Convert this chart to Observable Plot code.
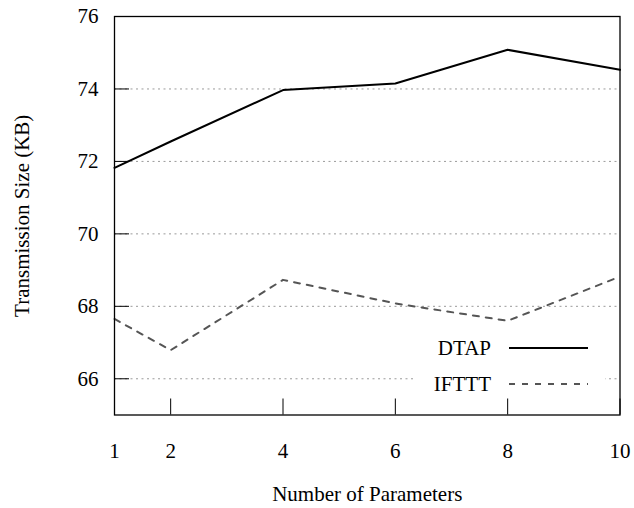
<!DOCTYPE html>
<html>
<head>
<meta charset="utf-8">
<script src="https://cdn.jsdelivr.net/npm/d3@7"></script>
<script src="https://cdn.jsdelivr.net/npm/@observablehq/plot@0.6"></script>
<style>
  html, body { margin: 0; padding: 0; background: #fff; }
  #chart svg { display: block; }
</style>
</head>
<body>
<div id="chart"></div>
<script>
const params = [1, 2, 4, 6, 8, 10];
const dtap = [71.82, 72.55, 73.97, 74.15, 75.08, 74.53];
const ifttt = [67.65, 66.79, 68.73, 68.08, 67.60, 68.82];
const xTicks = [1, 2, 4, 6, 8, 10];
const yTicks = [66, 68, 70, 72, 74, 76];
const gridValues = [66, 68, 70, 72, 74];
const seriesNames = ["DTAP", "IFTTT"];
const xTitle = "Number of Parameters";
const yTitle = "Transmission Size (KB)";

const rows = [];
params.forEach((p, i) => {
  rows.push({x: p, y: dtap[i], s: seriesNames[0]});
  rows.push({x: p, y: ifttt[i], s: seriesNames[1]});
});

const W = 634, H = 508;
const mL = 114, mR = 14.5, mT = 16, mB = 93.5;
const innerH = H - mT - mB, innerW = W - mL - mR;
const font = "'Liberation Serif', 'Times New Roman', serif";
const fs = 21;

const plot = Plot.plot({
  width: W,
  height: H,
  marginLeft: mL,
  marginRight: mR,
  marginTop: mT,
  marginBottom: mB,
  style: {fontFamily: font, fontSize: fs + "px", color: "#000", background: "#fff"},
  x: {domain: [1, 10], ticks: xTicks},
  y: {domain: [65, 76], ticks: yTicks},
  marks: [
    Plot.ruleY(gridValues, {stroke: "#9a9a9a", strokeWidth: 1, strokeDasharray: "2,3.5"}),
    Plot.tickX(xTicks, {x: d => d, stroke: "#000", strokeWidth: 1, insetTop: innerH - 16}),
    Plot.tickY(yTicks, {y: d => d, stroke: "#000", strokeWidth: 1, insetRight: innerW - 15}),
    Plot.line(rows.filter(d => d.s === seriesNames[0]), {x: "x", y: "y", stroke: "#000", strokeWidth: 2}),
    Plot.line(rows.filter(d => d.s === seriesNames[1]), {x: "x", y: "y", stroke: "#555", strokeWidth: 2, strokeDasharray: "6,7"}),
    Plot.axisX(xTicks, {tickSize: 0, tickPadding: 28, label: null, fontSize: fs}),
    Plot.axisY(yTicks, {tickSize: 0, tickPadding: 16, label: null, fontSize: fs}),
    Plot.text([xTitle], {text: d => d, frameAnchor: "bottom", dy: 79, fontSize: fs, lineAnchor: "middle", textAnchor: "middle"}),
    Plot.text([yTitle], {text: d => d, frameAnchor: "left", dx: -92, rotate: -90, fontSize: fs, lineAnchor: "middle", textAnchor: "middle"}),
    Plot.frame({stroke: "#000", strokeWidth: 1.3})
  ]
});

// Legend (boxed, inside the plot area, lower right)
const svg = d3.select(plot);
const lg = svg.append("g").attr("font-family", font).attr("font-size", fs);
lg.append("rect").attr("x", 413).attr("y", 331).attr("width", 192).attr("height", 64).attr("fill", "#fff");
const legendRows = [
  {name: seriesNames[0], cy: 348, stroke: "#000", dash: null},
  {name: seriesNames[1], cy: 384, stroke: "#555", dash: "6,7"}
];
legendRows.forEach(r => {
  lg.append("text").attr("x", 491).attr("y", r.cy).attr("text-anchor", "end")
    .attr("dominant-baseline", "central").attr("fill", "#000").text(r.name);
  const ln = lg.append("line").attr("x1", 509).attr("x2", 588).attr("y1", r.cy).attr("y2", r.cy)
    .attr("stroke", r.stroke).attr("stroke-width", 2);
  if (r.dash) ln.attr("stroke-dasharray", r.dash);
});
// keep frame on top
svg.node().appendChild(svg.select("[aria-label=frame]").node());

document.getElementById("chart").appendChild(plot);
</script>
</body>
</html>
